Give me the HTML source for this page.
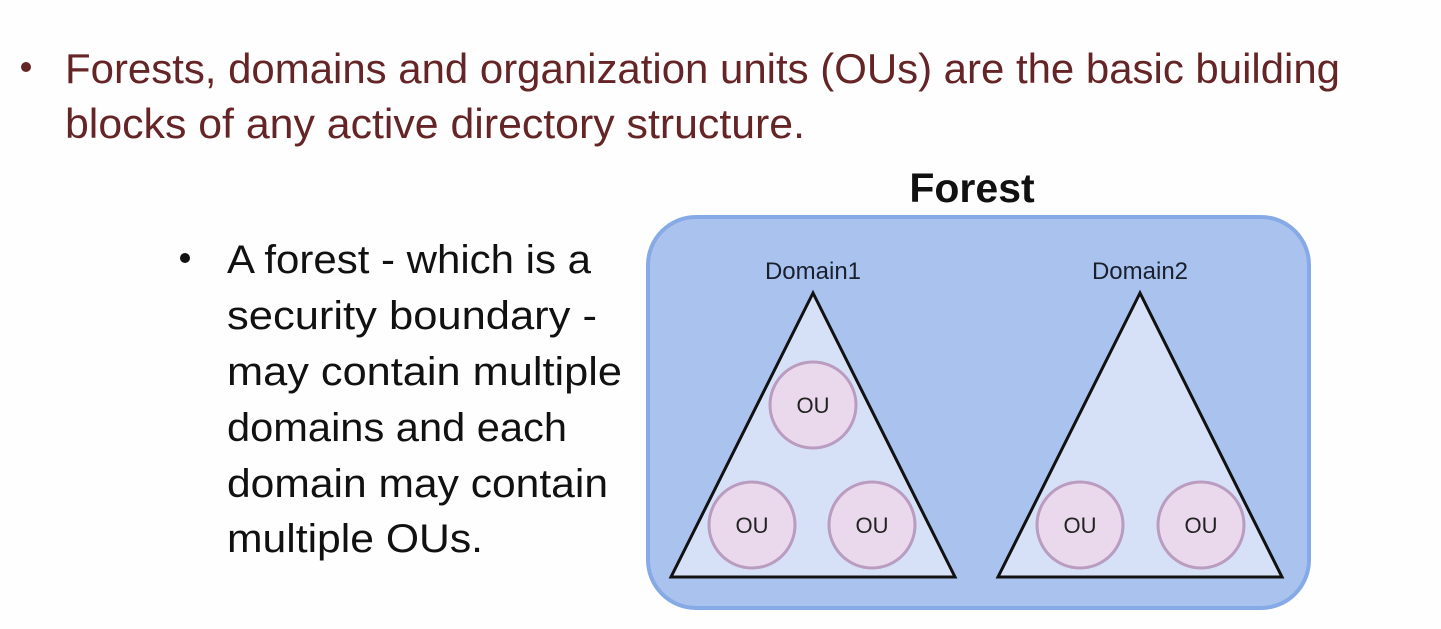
<!DOCTYPE html>
<html><head><meta charset="utf-8"><style>
html,body{margin:0;padding:0;background:#fff;}
svg{display:block}
</style></head><body>
<svg width="1441" height="629" viewBox="0 0 1441 629" xmlns="http://www.w3.org/2000/svg">
<rect width="1441" height="629" fill="#fefefe"/>
<g font-family="Liberation Sans, sans-serif" fill="#652426" font-size="42">
<circle cx="26" cy="67" r="5" fill="#652426"/>
<text x="65" y="83" textLength="1275" lengthAdjust="spacingAndGlyphs">Forests, domains and organization units (OUs) are the basic building</text>
<text x="65" y="138" textLength="740" lengthAdjust="spacingAndGlyphs">blocks of any active directory structure.</text>
</g>
<g font-family="Liberation Sans, sans-serif" fill="#111" font-size="40">
<circle cx="185" cy="258" r="5" fill="#111"/>
<text x="227" y="273" textLength="364" lengthAdjust="spacingAndGlyphs">A forest - which is a</text>
<text x="227" y="329" textLength="370" lengthAdjust="spacingAndGlyphs">security boundary -</text>
<text x="227" y="385" textLength="395" lengthAdjust="spacingAndGlyphs">may contain multiple</text>
<text x="227" y="441" textLength="340" lengthAdjust="spacingAndGlyphs">domains and each</text>
<text x="227" y="497" textLength="381" lengthAdjust="spacingAndGlyphs">domain may contain</text>
<text x="227" y="552" textLength="256" lengthAdjust="spacingAndGlyphs">multiple OUs.</text>
</g>
<text x="972" y="202" text-anchor="middle" font-family="Liberation Sans, sans-serif" font-weight="bold" font-size="41" fill="#111">Forest</text>
<rect x="648" y="217" width="661" height="391" rx="48" fill="#a9c3ee" stroke="#86aae6" stroke-width="4"/>
<g font-family="Liberation Sans, sans-serif" font-size="24" fill="#1a1f2e" text-anchor="middle">
<text x="813" y="279">Domain1</text>
<text x="1140" y="279">Domain2</text>
</g>
<polygon points="813,293 671,577 955,577" fill="#d6e1f7" stroke="#111" stroke-width="3"/>
<polygon points="1140,293 998,577 1282,577" fill="#d6e1f7" stroke="#111" stroke-width="3"/>
<g fill="#ead9ec" stroke="#b99cbf" stroke-width="3">
<circle cx="813" cy="405" r="43"/>
<circle cx="752" cy="525" r="43"/>
<circle cx="872" cy="525" r="43"/>
<circle cx="1080" cy="525" r="43"/>
<circle cx="1201" cy="525" r="43"/>
</g>
<g font-family="Liberation Sans, sans-serif" font-size="22" fill="#222" text-anchor="middle">
<text x="813" y="413">OU</text>
<text x="752" y="533">OU</text>
<text x="872" y="533">OU</text>
<text x="1080" y="533">OU</text>
<text x="1201" y="533">OU</text>
</g>
</svg>
</body></html>
